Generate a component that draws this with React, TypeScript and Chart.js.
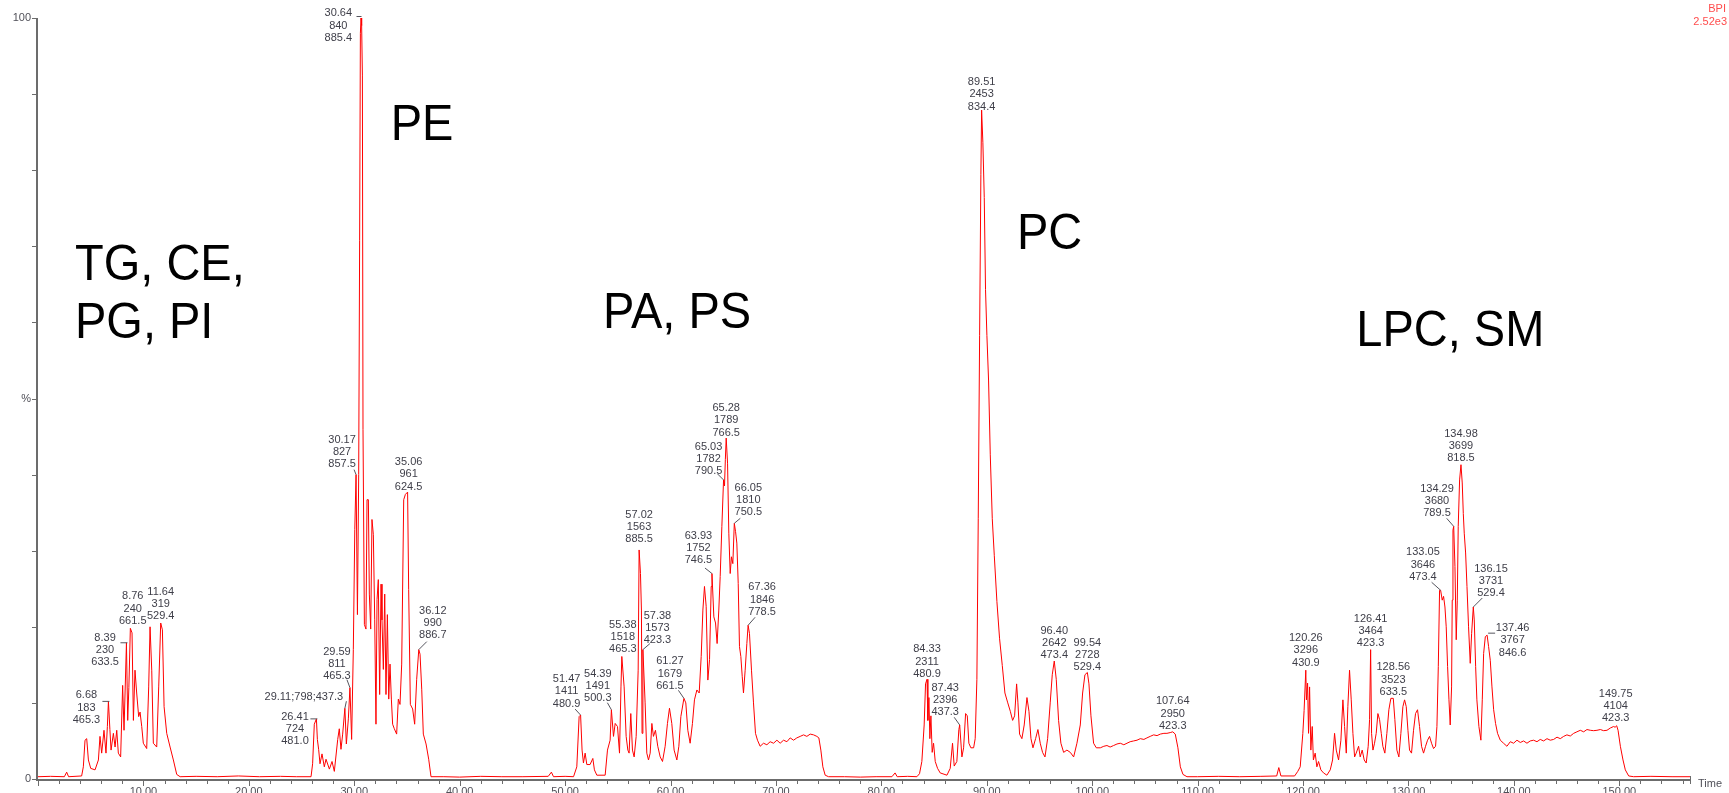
import React, { useEffect, useRef } from 'react';
import { Chart, registerables } from 'chart.js';

Chart.register(...registerables);

// ---- chromatogram trace: [retention time (min), relative intensity (%)] ----
const tgSegment: [number, number][] = [
  [0, 0.3], [1.2, 0.35], [2.5, 0.3], [2.72, 0.9], [2.9, 0.3], [4.14, 0.4], [4.3, 1.6], [4.46, 5.1], [4.62, 5.3],
  [4.78, 2.5], [5.0, 1.4], [5.41, 1.2], [5.73, 2.5], [5.88, 5.6], [6.04, 3.4], [6.26, 6.4], [6.45, 3.4], [6.58, 6.9],
  [6.68, 10.2], [6.82, 6.5], [6.93, 3.8], [7.15, 6.0], [7.31, 4.2], [7.47, 6.4], [7.62, 3.4], [7.84, 2.9], [8.03, 12.3],
  [8.16, 6.4], [8.39, 17.9], [8.51, 7.7], [8.62, 12.0], [8.76, 19.8], [8.92, 19.2], [9.05, 7.7], [9.2, 14.3], [9.36, 11.3],
  [9.55, 8.2], [9.68, 8.8], [9.84, 6.9], [9.99, 4.7], [10.31, 4.0], [10.5, 12.1], [10.63, 20.0], [10.79, 14.3], [10.94, 4.7],
  [11.26, 4.2], [11.45, 12.1], [11.64, 20.5], [11.8, 19.6], [11.96, 9.5], [12.21, 6.0], [12.53, 4.2], [12.84, 2.5],
  [13.16, 0.6], [13.48, 0.3], [15, 0.35], [17, 0.3], [19, 0.4], [21, 0.3], [23, 0.35], [24.5, 0.3],
];

const peSegment: [number, number][] = [
  [25.9, 0.3], [26.05, 2.0], [26.21, 7.2], [26.41, 7.9], [26.5, 5.2], [26.62, 3.9], [26.75, 2.0], [26.94, 3.3], [27.16, 1.6],
  [27.32, 2.6], [27.64, 1.3], [27.89, 2.3], [28.11, 1.0], [28.43, 5.2], [28.58, 6.6], [28.74, 3.9], [28.9, 5.9], [29.11, 9.3],
  [29.25, 4.6], [29.44, 7.9], [29.59, 12.0], [29.75, 5.2], [29.91, 17.0], [30.05, 32.8], [30.17, 40.0], [30.3, 21.6],
  [30.42, 40.0], [30.51, 70.8], [30.58, 98.0], [30.64, 100], [30.7, 99.0], [30.77, 92.5], [30.83, 45.9], [30.96, 20.3],
  [31.11, 19.7], [31.21, 36.7], [31.34, 36.7], [31.43, 24.3], [31.56, 19.7], [31.68, 34.1], [31.81, 32.1], [31.94, 21.0],
  [32.06, 7.2], [32.16, 23.6], [32.28, 26.2], [32.41, 11.1], [32.54, 25.6], [32.63, 20.9], [32.76, 14.4], [32.89, 24.3],
  [33.01, 11.1], [33.14, 21.6], [33.27, 10.5], [33.39, 15.1], [33.52, 10.5], [33.64, 7.2], [33.8, 6.6], [34.02, 5.9],
  [34.18, 10.5], [34.34, 9.8], [34.5, 15.1], [34.69, 36.7], [34.85, 37.4], [35.06, 37.7], [35.16, 24.9], [35.32, 9.8],
  [35.54, 9.2], [35.73, 7.2], [35.92, 13.1], [36.12, 17.0], [36.24, 16.4], [36.4, 11.8], [36.55, 5.9], [36.81, 4.6],
  [37.06, 2.6], [37.28, 0.3],
];

const gapSegmentA: [number, number][] = [
  [38.5, 0.3], [40, 0.25], [42, 0.35], [44, 0.3], [46, 0.3], [48.4, 0.35], [48.7, 0.9], [48.9, 0.3], [50, 0.35], [50.8, 0.3],
];

const paPsSegment: [number, number][] = [
  [51.11, 1.6], [51.33, 8.2], [51.47, 8.4], [51.61, 3.8], [51.74, 2.1], [51.9, 3.4], [52.06, 1.9], [52.37, 1.9], [52.63, 2.7],
  [52.78, 1.2], [53.01, 0.5], [53.8, 0.5], [54.02, 3.8], [54.27, 5.1], [54.39, 9.1], [54.59, 5.6], [54.75, 7.3], [54.97, 6.9],
  [55.16, 3.4], [55.3, 12.1], [55.38, 16.1], [55.6, 12.1], [55.79, 5.6], [55.95, 3.8], [56.07, 3.4], [56.23, 8.6],
  [56.39, 3.8], [56.55, 2.9], [56.74, 5.6], [56.93, 14.3], [57.02, 30.1], [57.15, 27.0], [57.24, 22.2], [57.3, 6.0],
  [57.38, 17.0], [57.59, 10.0], [57.75, 3.4], [57.91, 2.5], [58.07, 3.4], [58.23, 7.3], [58.38, 5.6], [58.57, 6.4],
  [58.79, 4.3], [59.02, 2.9], [59.24, 2.3], [59.49, 4.3], [59.71, 7.3], [59.9, 9.3], [60.12, 7.3], [60.34, 3.8], [60.6, 2.5],
  [60.79, 4.3], [60.98, 8.2], [61.27, 10.6], [61.45, 10.0], [61.64, 6.4], [61.86, 4.7], [62.08, 7.3], [62.27, 10.4],
  [62.5, 11.7], [62.72, 11.3], [62.91, 16.1], [63.07, 22.2], [63.22, 25.3], [63.38, 22.7], [63.54, 13.0], [63.7, 15.7],
  [63.86, 25.3], [63.93, 27.0], [64.11, 21.3], [64.27, 20.5], [64.42, 17.8], [64.58, 22.2], [64.71, 26.6], [64.87, 33.2],
  [65.03, 39.3], [65.12, 38.5], [65.2, 42.0], [65.28, 44.8], [65.41, 41.5], [65.53, 32.3], [65.66, 27.0], [65.78, 29.2],
  [65.91, 28.3], [66.05, 33.6], [66.17, 32.5], [66.29, 31.0], [66.42, 25.7], [66.54, 17.4], [66.67, 16.1], [66.8, 13.5],
  [66.92, 11.3], [67.08, 14.3], [67.24, 17.8], [67.36, 20.2], [67.49, 19.1], [67.68, 14.3], [67.87, 10.0], [68.06, 6.0],
  [68.25, 5.1], [68.5, 4.3], [68.82, 4.7], [69.14, 4.5], [69.45, 4.9], [69.77, 4.7], [70.09, 5.1], [70.4, 4.7], [70.72, 5.1],
  [71.04, 4.9], [71.35, 5.4], [71.67, 5.1], [71.98, 5.4], [72.3, 5.6], [72.62, 5.8], [72.93, 5.6], [73.25, 5.9], [73.57, 5.8],
  [73.88, 5.6], [74.07, 5.4], [74.26, 3.8], [74.45, 1.6], [74.67, 0.5], [74.99, 0.3],
];

const gapSegmentB: [number, number][] = [
  [76.5, 0.3], [78, 0.25], [79.5, 0.3], [81.0, 0.3], [81.3, 0.8], [81.5, 0.3], [82.5, 0.35], [83.37, 0.3],
];

const pcSegment: [number, number][] = [
  [83.62, 0.7], [83.84, 2.3], [84.06, 7.1], [84.19, 12.5], [84.33, 13.1], [84.41, 7.7], [84.51, 10.7], [84.6, 5.3],
  [84.7, 8.3], [84.82, 3.5], [84.95, 4.7], [85.11, 2.3], [85.33, 1.4], [85.58, 0.8], [86.22, 0.5], [86.53, 1.4], [86.75, 4.7],
  [86.91, 1.7], [87.16, 2.3], [87.35, 6.5], [87.43, 7.1], [87.64, 2.9], [87.8, 4.1], [87.99, 8.6], [88.15, 8.3], [88.3, 4.7],
  [88.49, 4.1], [88.75, 4.1], [88.9, 5.3], [89.06, 13.1], [89.19, 34.2], [89.32, 58.3], [89.44, 79.4], [89.51, 87.9],
  [89.63, 83.6], [89.76, 76.4], [89.88, 64.3], [90.01, 58.3], [90.17, 52.3], [90.33, 42.6], [90.52, 34.2], [90.71, 29.4],
  [90.96, 23.3], [91.21, 18.5], [91.47, 14.9], [91.72, 11.3], [91.97, 10.1], [92.23, 8.9], [92.45, 7.7], [92.64, 8.3],
  [92.83, 12.5], [92.95, 10.1], [93.11, 5.9], [93.33, 5.3], [93.55, 7.1], [93.81, 10.7], [94.0, 8.9], [94.19, 5.3],
  [94.38, 4.1], [94.63, 5.3], [94.85, 6.5], [95.07, 4.7], [95.29, 3.5], [95.52, 2.9], [95.77, 5.3], [96.02, 10.1],
  [96.21, 13.7], [96.4, 15.5], [96.59, 13.1], [96.81, 7.7], [97.03, 4.7], [97.29, 3.5], [97.6, 3.8], [97.92, 3.5],
  [98.24, 2.9], [98.55, 4.7], [98.87, 7.1], [99.09, 11.3], [99.31, 13.7], [99.54, 14.0], [99.69, 12.5], [99.88, 8.3],
  [100.13, 4.7], [100.39, 4.1], [100.77, 4.1], [101.1, 4.3], [101.4, 4.4], [101.7, 4.2], [102.03, 4.4], [102.35, 4.6],
  [102.66, 4.7], [103.0, 4.5], [103.3, 4.7], [103.6, 4.9], [103.93, 5.0], [104.25, 5.1], [104.56, 5.3], [104.9, 5.2],
  [105.19, 5.4], [105.5, 5.6], [105.83, 5.8], [106.15, 5.7], [106.46, 5.9], [106.8, 6.0], [107.09, 6.0], [107.4, 6.1],
  [107.64, 6.2], [107.88, 5.9], [108.13, 4.1], [108.36, 1.6], [108.61, 0.6], [108.99, 0.3],
];

const gapSegmentC: [number, number][] = [
  [110, 0.3], [112, 0.35], [114, 0.3], [116, 0.35], [117.5, 0.4], [117.7, 1.5], [117.9, 0.4], [119.2, 0.4], [119.5, 1.0],
];

const lpcSmSegment: [number, number][] = [
  [119.73, 1.6], [119.98, 6.0], [120.1, 9.0], [120.26, 14.3], [120.32, 10.4], [120.43, 12.6], [120.52, 6.0], [120.62, 12.1],
  [120.74, 3.8], [120.87, 6.9], [120.98, 2.5], [121.15, 3.4], [121.31, 1.6], [121.47, 2.3], [121.69, 1.2], [121.94, 0.8],
  [122.26, 0.5], [122.58, 1.2], [122.8, 2.5], [122.99, 6.0], [123.15, 3.8], [123.37, 2.5], [123.59, 5.1], [123.78, 10.4],
  [123.94, 6.9], [124.1, 3.4], [124.25, 9.5], [124.41, 14.3], [124.57, 10.4], [124.73, 6.0], [124.89, 2.9], [125.04, 3.4],
  [125.27, 4.3], [125.42, 2.9], [125.61, 3.8], [125.8, 2.5], [125.99, 2.1], [126.18, 4.3], [126.31, 7.8], [126.41, 17.0],
  [126.5, 6.0], [126.63, 3.8], [126.78, 4.7], [126.94, 6.0], [127.1, 8.6], [127.26, 7.8], [127.42, 6.0], [127.57, 4.3],
  [127.76, 3.4], [127.95, 6.0], [128.14, 9.1], [128.33, 10.6], [128.56, 10.6], [128.71, 7.8], [128.9, 3.8], [129.09, 2.9],
  [129.28, 6.0], [129.47, 9.5], [129.63, 10.4], [129.79, 9.5], [129.95, 6.4], [130.1, 3.8], [130.29, 3.4], [130.48, 6.4],
  [130.67, 8.6], [130.86, 9.1], [131.05, 6.9], [131.24, 4.3], [131.43, 3.4], [131.62, 4.3], [131.81, 5.1], [132.0, 5.6],
  [132.19, 4.7], [132.38, 4.0], [132.57, 4.3], [132.7, 6.9], [132.83, 14.8], [132.95, 24.8], [133.05, 24.8], [133.2, 23.5],
  [133.33, 24.0], [133.46, 22.6], [133.58, 20.0], [133.71, 14.8], [133.84, 10.4], [133.96, 7.1], [134.09, 12.1],
  [134.15, 23.5], [134.22, 32.7], [134.29, 33.2], [134.41, 27.9], [134.53, 18.3], [134.63, 23.5], [134.72, 33.2],
  [134.85, 39.3], [134.98, 41.3], [135.1, 38.9], [135.2, 34.9], [135.29, 32.3], [135.42, 29.7], [135.55, 25.3], [135.7, 20.0],
  [135.86, 15.2], [135.99, 19.1], [136.15, 22.6], [136.24, 20.9], [136.37, 14.8], [136.49, 10.4], [136.68, 6.9],
  [136.87, 5.1], [137.0, 10.4], [137.13, 16.5], [137.29, 18.7], [137.46, 18.9], [137.6, 17.4], [137.76, 15.6], [137.92, 12.1],
  [138.08, 9.1], [138.26, 7.3], [138.45, 6.0], [138.71, 5.1], [139.02, 4.7], [139.34, 4.3], [139.66, 4.9], [139.97, 4.7],
  [140.29, 5.1], [140.61, 4.8], [140.92, 5.0], [141.24, 4.7], [141.55, 5.0], [141.87, 5.1], [142.19, 4.9], [142.5, 5.2],
  [142.82, 5.0], [143.14, 5.3], [143.45, 5.1], [143.77, 5.2], [144.09, 5.5], [144.4, 5.3], [144.72, 5.6], [145.03, 5.8],
  [145.35, 5.65], [145.67, 6.0], [145.98, 6.2], [146.3, 6.4], [146.62, 6.2], [146.93, 6.5], [147.25, 6.4], [147.56, 6.35],
  [147.88, 6.4], [148.2, 6.5], [148.51, 6.35], [148.83, 6.4], [149.15, 6.7], [149.46, 6.9], [149.6, 6.8], [149.75, 7.0],
  [149.88, 6.4], [150.1, 4.3], [150.35, 2.5], [150.57, 1.2], [150.89, 0.4], [151.36, 0.3], [153, 0.35], [155, 0.3],
  [156.8, 0.3],
];

const traceSegments = [tgSegment, peSegment, gapSegmentA, paPsSegment, gapSegmentB, pcSegment, gapSegmentC, lpcSmSegment];

// ---- peak annotations ----
const peakTimes = [
  6.68, 8.39, 8.76, 11.64, 26.41, 29.11, 29.59, 30.17, 30.64, 35.06, 36.12, 51.47, 54.39, 55.38, 57.02, 57.38, 61.27,
  63.93, 65.03, 65.28, 66.05, 67.36, 84.33, 87.43, 89.51, 96.4, 99.54, 107.64, 120.26, 126.41, 128.56, 133.05, 134.29,
  134.98, 136.15, 137.46, 149.75,
];
const peakScans = [
  '183', '230', '240', '319', '724', '798', '811', '827', '840', '961', '990', '1411', '1491', '1518', '1563', '1573', '1679',
  '1752', '1782', '1789', '1810', '1846', '2311', '2396', '2453', '2642', '2728', '2950', '3296', '3464', '3523', '3646', '3680',
  '3699', '3731', '3767', '4104',
];
const peakMz = [
  '465.3', '633.5', '661.5', '529.4', '481.0', '437.3', '465.3', '857.5', '885.4', '624.5', '886.7', '480.9', '500.3', '465.3',
  '885.5', '423.3', '661.5', '746.5', '790.5', '766.5', '750.5', '778.5', '480.9', '437.3', '834.4', '473.4', '529.4', '423.3',
  '430.9', '423.3', '633.5', '473.4', '789.5', '818.5', '529.4', '846.6', '423.3',
];

// lipid class labels: [text, left time anchor, baseline intensity anchor]
const classNames = ['TG, CE,', 'PG, PI', 'PE', 'PA, PS', 'PC', 'LPC, SM'];
const classTimes = [3.51, 3.51, 33.46, 53.6, 92.86, 125.05];
const classLevels = [65.6, 58.0, 84.0, 59.2, 69.6, 56.9];

// axis definitions
const xMin = 0;
const xMax = 156.8;
const xLabelStep = 10;
const xMinorStep = 2;
const yMin = 0;
const yMax = 100;
const yMinorStep = 10;

// ---- layout (pixel offsets of the peak labels relative to their peak) ----
type Lay = { dx: number; dy: number; lead?: [number, number, number, number]; inline?: boolean };
const annLayout: Lay[] = [
  { dx: -22, dy: -6, lead: [-6, 0, 1, 0] },
  { dx: -21.4, dy: -5, lead: [-6, 0, 1, 0] },
  { dx: 2.4, dy: -32 },
  { dx: 0, dy: -31 },
  { dx: -21.4, dy: -2, lead: [-6, 0, 1, 0] },
  { dx: -41, dy: -11, lead: [1.5, -7, 0, 0], inline: true },
  { dx: -13, dy: -36, lead: [-3, -8, 0, 0] },
  { dx: -14, dy: -35, lead: [-2, -5, 0, 0] },
  { dx: -22.7, dy: -4.7, lead: [-4.5, -1.5, 0.5, -1.5] },
  { dx: 1, dy: -30 },
  { dx: 14, dy: -39, lead: [8, -8, 0, 0] },
  { dx: -14, dy: -36, lead: [-5.5, -6, 0, 0] },
  { dx: -13.6, dy: -36, lead: [-4, -7, 0, 0] },
  { dx: 1, dy: -31.5 },
  { dx: 0, dy: -35 },
  { dx: 14.5, dy: -34, lead: [7, -6, 0, 0] },
  { dx: -14, dy: -37, lead: [-5.5, -8, 0, 0] },
  { dx: -13.5, dy: -38, lead: [-7, -5.5, 0, 0] },
  { dx: -15, dy: -33, lead: [-6, -6, 0, 0] },
  { dx: 0, dy: -30 },
  { dx: 14, dy: -35.6, lead: [6, -5, 0, 0] },
  { dx: 14, dy: -38, lead: [7, -8, 0, 0] },
  { dx: 0, dy: -30 },
  { dx: -14.5, dy: -37, lead: [-5.5, -7.7, 0, 0] },
  { dx: 0, dy: -28 },
  { dx: 0, dy: -30 },
  { dx: 0, dy: -29.5 },
  { dx: 0, dy: -30.5 },
  { dx: 0, dy: -32 },
  { dx: 0, dy: -31 },
  { dx: 0, dy: -31 },
  { dx: -17.7, dy: -38, lead: [-9, -8, 0, 0] },
  { dx: -16.7, dy: -37.4, lead: [-7, -8, 0, 0] },
  { dx: 0, dy: -31 },
  { dx: 17.7, dy: -38, lead: [9, -9, 0, 0] },
  { dx: 25.5, dy: -7, lead: [8, -2, 1, -2] },
  { dx: -1, dy: -32 },
];

const FONT = '"Liberation Sans", Arial, Helvetica, sans-serif';
const AXIS_COLOR = '#6c6c6c';
const TEXT_COLOR = '#505058';
const LABEL_COLOR = '#3e3e48';
const TRACE_COLOR = '#ff0000';

export default function App() {
  const canvasRef = useRef<HTMLCanvasElement | null>(null);

  useEffect(() => {
    const canvas = canvasRef.current;
    if (!canvas) return;
    const points = traceSegments.flat().map(([x, y]) => ({ x, y }));

    const valueAt = (t: number) => {
      let best = points[0];
      for (const p of points) if (Math.abs(p.x - t) < Math.abs(best.x - t)) best = p;
      return best.y;
    };

    const overlay = {
      id: 'overlay',
      afterDatasetsDraw(chart: any) {
        const { ctx, chartArea } = chart;
        const xs = chart.scales.x;
        const ys = chart.scales.y;
        ctx.save();

        // axes
        ctx.strokeStyle = AXIS_COLOR;
        ctx.lineWidth = 2;
        ctx.beginPath();
        ctx.moveTo(chartArea.left - 1, chartArea.top);
        ctx.lineTo(chartArea.left - 1, chartArea.bottom + 2);
        ctx.moveTo(chartArea.left - 2, chartArea.bottom + 1);
        ctx.lineTo(chartArea.right, chartArea.bottom + 1);
        ctx.stroke();

        // x ticks
        ctx.lineWidth = 1;
        ctx.beginPath();
        for (let t = xMin; t <= xMax + 1e-6; t += xMinorStep) {
          const px = Math.round(xs.getPixelForValue(t)) + 0.5;
          const major = Math.abs(t % xLabelStep) < 1e-6;
          ctx.moveTo(px, chartArea.bottom + 2);
          ctx.lineTo(px, chartArea.bottom + (major ? 7 : 5));
        }
        ctx.moveTo(chartArea.right - 0.5, chartArea.bottom - 3);
        ctx.lineTo(chartArea.right - 0.5, chartArea.bottom + 5);
        // y ticks
        for (let v = yMin; v <= yMax + 1e-6; v += yMinorStep) {
          const py = Math.round(ys.getPixelForValue(v)) + 0.5;
          ctx.moveTo(chartArea.left - 2, py);
          ctx.lineTo(chartArea.left - 6, py);
        }
        ctx.stroke();

        // "Time" axis title
        ctx.fillStyle = TEXT_COLOR;
        ctx.font = `11px ${FONT}`;
        ctx.textAlign = 'left';
        ctx.textBaseline = 'middle';
        ctx.fillText('Time', chartArea.right + 7, chartArea.bottom + 5);

        // trace descriptor (top right)
        ctx.fillStyle = '#ff4d4d';
        ctx.textAlign = 'right';
        ctx.fillText('BPI', chart.width - 3, 9);
        ctx.fillText('2.52e3', chart.width - 2, 22);

        // peak labels
        ctx.font = `11px ${FONT}`;
        ctx.textAlign = 'center';
        ctx.textBaseline = 'middle';
        const lh = 12.2;
        peakTimes.forEach((t, i) => {
          const lay = annLayout[i];
          const px = xs.getPixelForValue(t);
          const py = ys.getPixelForValue(valueAt(t));
          const rt = t.toFixed(2);
          ctx.fillStyle = LABEL_COLOR;
          if (lay.inline) {
            ctx.fillText(`${rt};${peakScans[i]};${peakMz[i]}`, px + lay.dx, py + lay.dy);
          } else {
            ctx.fillText(rt, px + lay.dx, py + lay.dy);
            ctx.fillText(peakScans[i], px + lay.dx, py + lay.dy + lh);
            ctx.fillText(peakMz[i], px + lay.dx, py + lay.dy + 2 * lh);
          }
          if (lay.lead) {
            const [x1, y1, x2, y2] = lay.lead;
            ctx.strokeStyle = '#55555e';
            ctx.lineWidth = 1;
            ctx.beginPath();
            ctx.moveTo(px + x1, py + y1);
            ctx.lineTo(px + x2, py + y2);
            ctx.stroke();
          }
        });

        // lipid class labels
        ctx.fillStyle = '#000000';
        ctx.font = `47px ${FONT}`;
        ctx.textAlign = 'left';
        ctx.textBaseline = 'alphabetic';
        classNames.forEach((name, i) => {
          const x = xs.getPixelForValue(classTimes[i]);
          const y = ys.getPixelForValue(classLevels[i]);
          ctx.save();
          ctx.translate(x, y);
          ctx.scale(1, 1.07);
          ctx.fillText(name, 0, 0);
          ctx.restore();
        });

        ctx.restore();
      },
    };

    const chart = new Chart(canvas, {
      type: 'line',
      data: {
        datasets: [
          {
            data: points,
            borderColor: TRACE_COLOR,
            borderWidth: 1,
            pointRadius: 0,
            tension: 0,
            fill: false,
          },
        ],
      },
      options: {
        animation: false,
        responsive: false,
        maintainAspectRatio: false,
        devicePixelRatio: 1,
        events: [],
        layout: { padding: { top: 18, right: 38, left: 0, bottom: 0 } },
        plugins: { legend: { display: false }, tooltip: { enabled: false } },
        scales: {
          x: {
            type: 'linear',
            min: xMin,
            max: xMax,
            afterFit: (s: any) => {
              s.height = 14;
            },
            border: { display: false },
            grid: {
              display: true,
              drawOnChartArea: false,
              drawTicks: true,
              tickLength: 4,
              color: 'rgba(0,0,0,0)',
              tickColor: 'rgba(0,0,0,0)',
            },
            ticks: {
              stepSize: xLabelStep,
              includeBounds: false,
              autoSkip: false,
              maxRotation: 0,
              padding: 2,
              color: TEXT_COLOR,
              font: { family: FONT, size: 11 },
              callback: (v: any) => (Number(v) === 0 ? '' : Number(v).toFixed(2)),
            },
          },
          y: {
            type: 'linear',
            min: yMin,
            max: yMax,
            afterFit: (s: any) => {
              s.width = 38;
            },
            border: { display: false },
            grid: {
              display: true,
              drawOnChartArea: false,
              drawTicks: true,
              tickLength: 5,
              color: 'rgba(0,0,0,0)',
              tickColor: 'rgba(0,0,0,0)',
            },
            ticks: {
              stepSize: 50,
              autoSkip: false,
              padding: 2,
              color: TEXT_COLOR,
              font: { family: FONT, size: 11 },
              callback: (v: any) => (Number(v) === 50 ? '%' : String(v)),
            },
          },
        },
      },
      plugins: [overlay],
    } as any);

    return () => chart.destroy();
  }, []);

  return (
    <div style={{ position: 'absolute', left: 0, top: 0, width: 1729, height: 793, background: '#ffffff', overflow: 'hidden' }}>
      <canvas ref={canvasRef} width={1729} height={793} style={{ display: 'block', width: 1729, height: 793 }} />
    </div>
  );
}
